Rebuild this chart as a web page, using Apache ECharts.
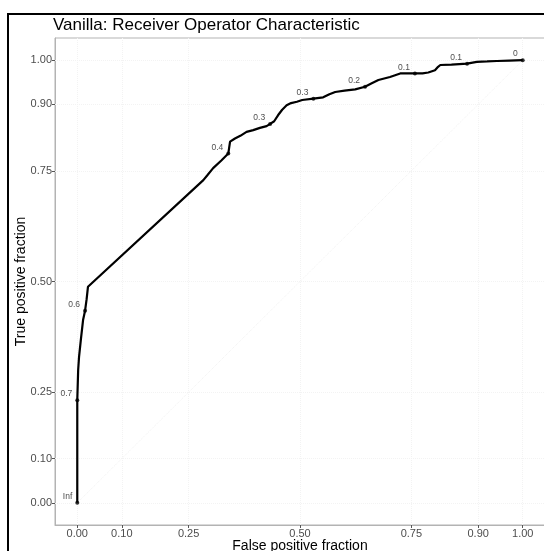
<!DOCTYPE html>
<html>
<head>
<meta charset="utf-8">
<script src="https://cdn.jsdelivr.net/npm/echarts@6/dist/echarts.min.js"></script>
<style>
  html, body { margin: 0; padding: 0; background: #fff; }
  #roc { width: 544px; height: 551px; }
</style>
</head>
<body>
<div id="roc"></div>
<script>
// ROC curve (false / true positive fraction)
const fpr = [0, 0, 0.002, 0.004, 0.008, 0.013, 0.0175, 0.021, 0.024, 0.0265,
  0.283, 0.292, 0.305, 0.324, 0.339, 0.343, 0.347, 0.354, 0.366, 0.380,
  0.395, 0.410, 0.425, 0.433, 0.442, 0.451, 0.460, 0.470, 0.480, 0.493,
  0.505, 0.530, 0.552, 0.566, 0.579, 0.600, 0.624, 0.646, 0.660, 0.676,
  0.702, 0.725, 0.740, 0.758, 0.775, 0.788, 0.803, 0.810, 0.815, 0.840,
  0.875, 0.897, 0.920, 0.942, 0.970, 1.0];
const tpr = [0, 0.232, 0.300, 0.330, 0.368, 0.413, 0.434, 0.460, 0.488, 0.492,
  0.729, 0.740, 0.756, 0.774, 0.789, 0.816, 0.819, 0.823, 0.829, 0.838,
  0.842, 0.847, 0.851, 0.856, 0.862, 0.876, 0.888, 0.898, 0.903, 0.906,
  0.910, 0.913, 0.916, 0.923, 0.928, 0.931, 0.934, 0.940, 0.947, 0.955,
  0.962, 0.970, 0.970, 0.970, 0.970, 0.972, 0.977, 0.985, 0.989, 0.990,
  0.992, 0.996, 0.997, 0.998, 0.999, 1.0];

// labelled cutoff points
const cutFpr    = [0, 0, 0.0175, 0.339, 0.433, 0.530, 0.646, 0.758, 0.875, 1.0];
const cutTpr    = [0, 0.232, 0.434, 0.789, 0.856, 0.913, 0.940, 0.970, 0.992, 1.0];
const cutLabels = ['Inf', '0.7', '0.6', '0.4', '0.3', '0.3', '0.2', '0.1', '0.1', '0'];

const xTicks = [0, 0.1, 0.25, 0.5, 0.75, 0.9, 1];
const yTicks = [0, 0.1, 0.25, 0.5, 0.75, 0.9, 1];
const diagonal = [[0, 0], [1, 1]];

const font = 'Liberation Sans, Arial, sans-serif';
const tickColor = '#4d4d4d';

const chart = echarts.init(document.getElementById('roc'));

const axisCommon = {
  type: 'value',
  min: -0.05,
  max: 1.05,
  axisLine: { show: true, onZero: false, lineStyle: { color: '#b3b3b3', width: 1 } },
  axisTick: { show: true, customValues: xTicks, length: 3, lineStyle: { color: '#555' } },
  axisLabel: {
    customValues: xTicks,
    color: tickColor,
    fontFamily: font,
    fontSize: 11,
    margin: 3,
    formatter: v => v.toFixed(2)
  },
  splitLine: { show: false },
  nameLocation: 'middle',
  nameMoveOverlap: false,
  nameTextStyle: { color: '#000', fontFamily: font, fontSize: 14 }
};

const gridLines = xTicks.map(v => ({ xAxis: v })).concat(yTicks.map(v => ({ yAxis: v })));

chart.setOption({
  animation: false,
  title: {
    text: 'Vanilla: Receiver Operator Characteristic',
    left: 53,
    top: 17,
    padding: 0,
    textStyle: { color: '#000', fontFamily: font, fontSize: 17, fontWeight: 'normal' }
  },
  graphic: [{
    type: 'rect',
    shape: { x: 8, y: 14, width: 600, height: 600 },
    style: { fill: 'none', stroke: '#000', lineWidth: 2 },
    silent: true
  }],
  grid: {
    left: 55, top: 38, width: 490, height: 487,
    show: true, borderColor: '#b3b3b3', borderWidth: 1,
    containLabel: false,
    outerBoundsMode: 'none'
  },
  xAxis: Object.assign({}, axisCommon, {
    name: 'False positive fraction',
    nameGap: 14
  }),
  yAxis: Object.assign({}, axisCommon, {
    axisTick: { show: true, customValues: yTicks, length: 3, lineStyle: { color: '#555' } },
    axisLabel: Object.assign({}, axisCommon.axisLabel, { customValues: yTicks }),
    name: 'True positive fraction',
    nameGap: 27
  }),
  series: [
    {
      type: 'line',
      data: diagonal,
      symbol: 'none',
      silent: true,
      lineStyle: { color: '#f0f0f0', width: 1, type: 'dotted' },
      markLine: {
        silent: true,
        symbol: ['none', 'none'],
        label: { show: false },
        lineStyle: { color: '#f3f3f3', width: 1, type: 'dotted' },
        data: gridLines
      },
      z: 0
    },
    {
      type: 'line',
      data: fpr.map((x, i) => [x, tpr[i]]),
      symbol: 'none',
      lineStyle: { color: '#000', width: 2.2 },
      z: 5
    },
    {
      type: 'scatter',
      data: cutFpr.map((x, i) => ({ value: [x, cutTpr[i]], name: cutLabels[i] })),
      symbol: 'circle',
      symbolSize: 4,
      itemStyle: { color: '#000' },
      label: {
        show: true,
        formatter: p => p.name,
        position: 'left',
        distance: 3,
        offset: [0, -6],
        color: '#222',
        fontFamily: font,
        fontSize: 8.5
      },
      z: 6
    }
  ]
});
</script>
</body>
</html>
